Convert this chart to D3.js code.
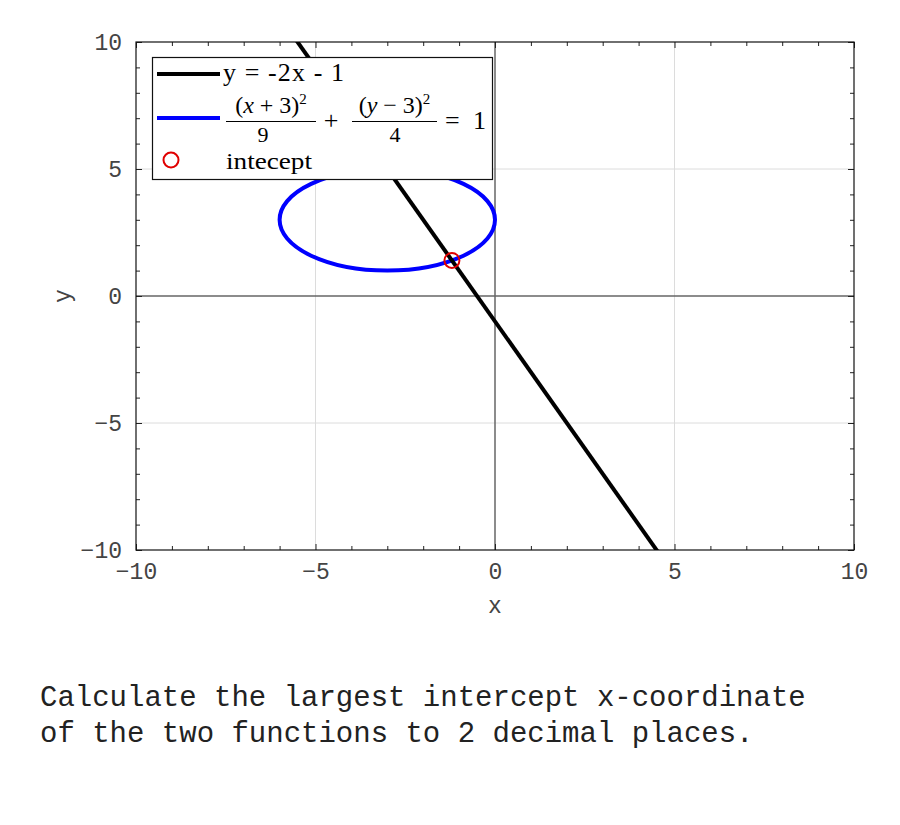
<!DOCTYPE html>
<html><head><meta charset="utf-8">
<script src="https://cdn.jsdelivr.net/npm/d3@7"></script>
<style>body{margin:0;background:#fff}</style>
</head><body>
<svg id="c" width="900" height="825"></svg>
<script>
const xDomain = [-10, 10];
const yDomain = [-10, 10];
const majorTicks = [-10, -5, 0, 5, 10];
const minorTicks = [-9,-8,-7,-6,-4,-3,-2,-1,1,2,3,4,6,7,8,9];
const lineXs = [-10, 10];
const lineYs = [19, -21];           // y = -2x - 1 at the ends
const ellipseCenter = [-3, 3];
const ellipseRadii = [3, 2];
const interceptX = [-1.2];
const interceptY = [1.4];
const questionLines = ["Calculate the largest intercept x-coordinate", "of the two functions to 2 decimal places."];

const svg = d3.select("#c");
const L = 136, R = 854, T = 42, B = 550;
const x = d3.scaleLinear().domain(xDomain).range([L, R]);
const y = d3.scaleLinear().domain(yDomain).range([B, T]);

svg.append("defs").append("clipPath").attr("id","clip")
  .append("rect").attr("x",L).attr("y",T).attr("width",R-L).attr("height",B-T);

// grid
const g = svg.append("g");
majorTicks.filter(d=>d!==0 && d!==-10 && d!==10).forEach(d=>{
  g.append("line").attr("x1",x(d)).attr("x2",x(d)).attr("y1",T).attr("y2",B).attr("stroke","#dcdcdc").attr("stroke-width",1);
  g.append("line").attr("y1",y(d)).attr("y2",y(d)).attr("x1",L).attr("x2",R).attr("stroke","#dcdcdc").attr("stroke-width",1);
});
// zero lines
g.append("line").attr("x1",x(0)).attr("x2",x(0)).attr("y1",T).attr("y2",B).attr("stroke","#666").attr("stroke-width",1.5);
g.append("line").attr("y1",y(0)).attr("y2",y(0)).attr("x1",L).attr("x2",R).attr("stroke","#666").attr("stroke-width",1.5);

// axes
const mono = "'Liberation Mono', 'DejaVu Sans Mono', monospace";
function axisStyle(sel){
  sel.attr("font-size",null).attr("font-family",null);
  sel.select(".domain").remove();
  sel.selectAll(".tick line").attr("stroke","#222").attr("stroke-width",1);
  sel.selectAll(".tick text").attr("fill","#444").style("font-family",mono).style("font-size","23px").style("font-weight","300");
}
const tickFmt = d => d < 0 ? "\u2212" + Math.abs(d) : String(d);
svg.append("g").attr("transform",`translate(0,${B})`)
  .call(d3.axisBottom(x).tickValues(majorTicks).tickFormat(tickFmt).tickSize(-6).tickPadding(13))
  .call(axisStyle);
svg.append("g").attr("transform",`translate(0,${B})`)
  .call(d3.axisBottom(x).tickValues(minorTicks).tickFormat("").tickSize(-4)).call(axisStyle);
svg.append("g").attr("transform",`translate(0,${T})`)
  .call(d3.axisTop(x).tickValues(majorTicks).tickFormat("").tickSize(-6)).call(axisStyle);
svg.append("g").attr("transform",`translate(0,${T})`)
  .call(d3.axisTop(x).tickValues(minorTicks).tickFormat("").tickSize(-4)).call(axisStyle);
svg.append("g").attr("transform",`translate(${L},0)`)
  .call(d3.axisLeft(y).tickValues(majorTicks).tickFormat(tickFmt).tickSize(-6).tickPadding(14))
  .call(axisStyle);
svg.append("g").attr("transform",`translate(${L},0)`)
  .call(d3.axisLeft(y).tickValues(minorTicks).tickFormat("").tickSize(-4)).call(axisStyle);
svg.append("g").attr("transform",`translate(${R},0)`)
  .call(d3.axisRight(y).tickValues(majorTicks).tickFormat("").tickSize(-6)).call(axisStyle);
svg.append("g").attr("transform",`translate(${R},0)`)
  .call(d3.axisRight(y).tickValues(minorTicks).tickFormat("").tickSize(-4)).call(axisStyle);

svg.append("rect").attr("x",L).attr("y",T).attr("width",R-L).attr("height",B-T)
  .attr("fill","none").attr("stroke","#111").attr("stroke-width",1.2);

// axis labels
svg.append("text").attr("x",(L+R)/2).attr("y",613).attr("text-anchor","middle")
  .style("font-family",mono).style("font-size","23px").attr("fill","#444").text("x");
svg.append("text").attr("transform",`translate(70,${(T+B)/2}) rotate(-90)`).attr("text-anchor","middle")
  .style("font-family",mono).style("font-size","23px").attr("fill","#444").text("y");

// data
const plot = svg.append("g").attr("clip-path","url(#clip)");
plot.append("ellipse")
  .attr("cx",x(ellipseCenter[0])).attr("cy",y(ellipseCenter[1]))
  .attr("rx",x(ellipseCenter[0]+ellipseRadii[0])-x(ellipseCenter[0]))
  .attr("ry",y(ellipseCenter[1])-y(ellipseCenter[1]+ellipseRadii[1]))
  .attr("fill","none").attr("stroke","#0000ff").attr("stroke-width",4);
plot.append("path").datum(d3.zip(lineXs,lineYs))
  .attr("d",d3.line().x(d=>x(d[0])).y(d=>y(d[1])))
  .attr("fill","none").attr("stroke","#000").attr("stroke-width",4);
plot.selectAll("circle.ic").data(d3.zip(interceptX,interceptY)).join("circle")
  .attr("cx",d=>x(d[0])).attr("cy",d=>y(d[1])).attr("r",7.5)
  .attr("fill","none").attr("stroke","#e00000").attr("stroke-width",2);

// legend
const serif = "'Liberation Serif', 'DejaVu Serif', serif";
const fs = "26px";
const lg = svg.append("g");
lg.append("rect").attr("x",152.5).attr("y",57.5).attr("width",340).attr("height",122)
  .attr("fill","#fff").attr("stroke","#111").attr("stroke-width",1.2);
lg.append("line").attr("x1",157).attr("x2",220).attr("y1",74).attr("y2",74).attr("stroke","#000").attr("stroke-width",4);
lg.append("text").attr("x",223).attr("y",81).style("font-family",serif).style("font-size",fs)
  .attr("textLength",121).attr("lengthAdjust","spacing").text("y = -2x - 1");
lg.append("line").attr("x1",157).attr("x2",220).attr("y1",118).attr("y2",118).attr("stroke","#0000ff").attr("stroke-width",4);
function frac(x0, x1, varName, op){
  const t = lg.append("text").attr("x",(x0+x1)/2).attr("y",113).attr("text-anchor","middle")
    .style("font-family",serif).style("font-size","24px");
  t.append("tspan").text("(");
  t.append("tspan").style("font-style","italic").text(varName);
  t.append("tspan").text(op);
  t.append("tspan").attr("dy",-9).style("font-size","15px").text("2");
  lg.append("line").attr("x1",x0).attr("x2",x1).attr("y1",121.5).attr("y2",121.5).attr("stroke","#000").attr("stroke-width",1);
}
frac(226, 316, "x", " + 3)");
frac(352, 437, "y", " \u2212 3)");
lg.append("text").attr("x",263).attr("y",142).attr("text-anchor","middle").style("font-family",serif).style("font-size","22px").text("9");
lg.append("text").attr("x",395).attr("y",142).attr("text-anchor","middle").style("font-family",serif).style("font-size","22px").text("4");
lg.append("text").attr("x",331).attr("y",129).attr("text-anchor","middle").style("font-family",serif).style("font-size",fs).text("+");
lg.append("text").attr("x",445).attr("y",129).style("font-family",serif).style("font-size",fs)
  .attr("textLength",41).attr("lengthAdjust","spacing").text("= 1");
lg.append("circle").attr("cx",171).attr("cy",160).attr("r",7.5).attr("fill","none").attr("stroke","#e00000").attr("stroke-width",2);
lg.append("text").attr("x",226).attr("y",169).style("font-family",serif).style("font-size","24px")
  .attr("textLength",86).attr("lengthAdjust","spacingAndGlyphs").text("intecept");

// question text
svg.selectAll("text.q").data(questionLines).join("text").attr("class","q")
  .attr("x",40).attr("y",(d,i)=>706+i*36)
  .style("font-family",mono).style("font-size","29px").attr("fill","#222")
  .text(d=>d);
</script>
</body></html>
